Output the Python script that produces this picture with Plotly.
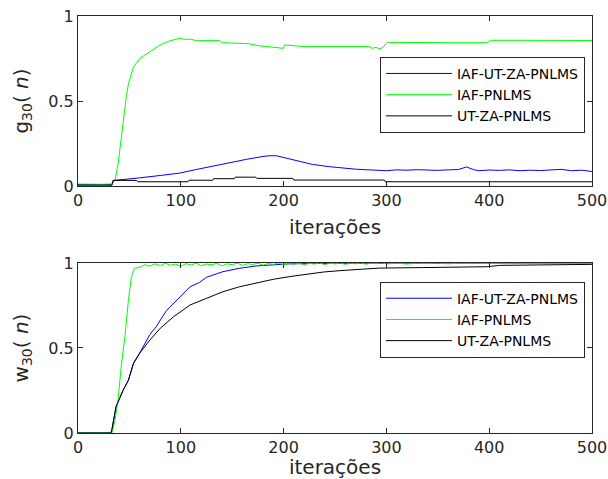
import plotly.graph_objects as go

# ---------------- data: top panel g30(n) ----------------
g_blue_n = [0, 33, 35, 41, 60, 80, 99, 115, 131, 150, 164, 180, 186, 193, 203, 212, 228, 244,
            260, 270, 280, 290, 300, 310, 320, 330, 340, 350, 360, 370, 378, 385, 390, 400,
            410, 420, 430, 440, 450, 460, 470, 480, 490, 500]
g_blue_v = [0.008, 0.008, 0.033, 0.036, 0.048, 0.062, 0.076, 0.097, 0.118, 0.140, 0.157, 0.174,
            0.178, 0.178, 0.163, 0.147, 0.127, 0.114, 0.104, 0.099, 0.096, 0.094, 0.090, 0.095,
            0.093, 0.096, 0.094, 0.092, 0.095, 0.097, 0.112, 0.096, 0.090, 0.094, 0.092, 0.095,
            0.090, 0.093, 0.091, 0.095, 0.098, 0.090, 0.093, 0.085]

g_green_n = [0, 8, 20, 33, 36, 39, 41, 44, 47, 49, 54, 60, 70, 80, 89, 99, 103, 110, 115, 138,
             140, 150, 166, 176, 185, 200, 201, 212, 220, 250, 283, 286, 290, 293, 296, 301,
             330, 360, 398, 402, 430, 460, 500]
g_green_v = [0.012, 0.010, 0.010, 0.012, 0.035, 0.13, 0.23, 0.39, 0.525, 0.60, 0.70, 0.75, 0.79,
             0.83, 0.853, 0.869, 0.863, 0.863, 0.855, 0.855, 0.843, 0.840, 0.837, 0.825, 0.818,
             0.810, 0.830, 0.825, 0.820, 0.820, 0.820, 0.810, 0.815, 0.808, 0.812, 0.845,
             0.843, 0.843, 0.843, 0.857, 0.857, 0.856, 0.856]

g_black_n = [0, 33, 34, 57, 58, 107, 108, 131, 132, 152, 153, 173, 174, 209, 210, 298, 299, 500]
g_black_v = [0.005, 0.005, 0.033, 0.033, 0.025, 0.025, 0.034, 0.034, 0.043, 0.043, 0.052, 0.052,
             0.045, 0.045, 0.035, 0.035, 0.025, 0.025]

# ---------------- data: bottom panel w30(n) ----------------
w_blue_n = [0, 32, 33, 37, 44, 49, 54, 60, 70, 76, 86, 93, 100, 109, 118, 125, 141, 157, 174,
            190, 206, 230, 260, 300, 350, 400, 450, 500]
w_blue_v = [0.0, 0.0, 0.02, 0.155, 0.253, 0.31, 0.41, 0.47, 0.58, 0.625, 0.72, 0.763, 0.80, 0.86,
            0.885, 0.916, 0.949, 0.969, 0.983, 0.990, 0.995, 0.997, 0.998, 0.999, 1.0, 1.0,
            1.0, 1.0]

w_green_n = [0, 32, 33, 36, 39, 42, 46, 49, 52, 55, 60, 65, 70, 75, 80, 85, 90, 95, 100, 105,
             110, 115, 120, 125, 130, 135, 140, 145, 150, 155, 160, 165, 170, 175, 180, 185,
             190, 195, 200, 205, 210, 215, 220, 225, 230, 235, 240, 245, 250, 255, 260, 265,
             270, 275, 280, 285, 290, 295, 300, 310, 320, 330, 340, 350, 360, 370, 380, 390,
             400, 410, 420, 430, 440, 450, 460, 470, 480, 490, 500]
w_green_v = [0.0, 0.0, 0.0, 0.076, 0.194, 0.39, 0.586, 0.78, 0.92, 0.969, 0.975, 0.990, 0.982,
             0.995, 0.985, 0.998, 0.987, 0.993, 0.981, 0.996, 0.988, 0.999, 0.984, 0.994, 0.989,
             0.998, 0.983, 0.995, 0.990, 0.999, 0.986, 0.996, 0.991, 0.999, 0.987, 0.997, 0.992,
             1.0, 0.989, 0.997, 0.993, 0.999, 0.990, 0.998, 0.994, 1.0, 0.991, 0.998, 0.995,
             1.0, 0.992, 0.999, 0.995, 1.0, 0.993, 0.999, 0.996, 1.0, 0.995, 0.998, 0.994,
             0.999, 0.996, 1.0, 0.995, 0.999, 0.997, 1.0, 0.996, 0.999, 0.997, 1.0, 0.996,
             0.999, 0.998, 1.0, 0.997, 0.999, 0.998]

w_black_n = [0, 32, 33, 37, 44, 49, 54, 60, 70, 80, 93, 109, 125, 141, 157, 174, 190, 206, 222,
             239, 255, 271, 293, 335, 398, 410, 500]
w_black_v = [0.0, 0.0, 0.02, 0.155, 0.253, 0.31, 0.41, 0.47, 0.547, 0.616, 0.684, 0.753, 0.792,
             0.831, 0.860, 0.884, 0.904, 0.920, 0.934, 0.947, 0.955, 0.962, 0.970, 0.973,
             0.978, 0.986, 0.992]

names = ["IAF-UT-ZA-PNLMS", "IAF-PNLMS", "UT-ZA-PNLMS"]
colors = ["#0000ff", "#00ff00", "#000000"]
x_ticks = [0, 100, 200, 300, 400, 500]
y_ticks = [0, 0.5, 1]
y_tick_text = ["0", "0.5", "1"]

FONT = "DejaVu Sans"
AXC = "#262626"

fig = go.Figure()
top = [(g_blue_n, g_blue_v), (g_green_n, g_green_v), (g_black_n, g_black_v)]
bot = [(w_blue_n, w_blue_v), (w_green_n, w_green_v), (w_black_n, w_black_v)]
for (xs, ys), nm, c in zip(top, names, colors):
    fig.add_trace(go.Scatter(x=xs, y=ys, mode="lines", name=nm, line=dict(color=c, width=1),
                             xaxis="x", yaxis="y", legend="legend"))
for (xs, ys), nm, c in zip(bot, names, colors):
    fig.add_trace(go.Scatter(x=xs, y=ys, mode="lines", name=nm, line=dict(color=c, width=1),
                             xaxis="x2", yaxis="y2", legend="legend2"))

def xax(anchor):
    return dict(range=[0, 500], tickvals=x_ticks, ticks="inside", ticklen=5, tickcolor=AXC,
                showline=True, linecolor=AXC, linewidth=1, mirror="ticks", showgrid=False,
                zeroline=False, anchor=anchor, automargin=False,
                tickfont=dict(family=FONT, size=16, color=AXC),
                title=dict(text="iterações", font=dict(family=FONT, size=20, color=AXC), standoff=10))

def yax(anchor, domain, label):
    return dict(range=[0, 1], tickvals=y_ticks, ticktext=y_tick_text, ticks="inside", ticklen=5,
                tickcolor=AXC, showline=True, linecolor=AXC, linewidth=1, mirror="ticks",
                showgrid=False, zeroline=False, anchor=anchor, domain=domain, automargin=False,
                tickfont=dict(family=FONT, size=16, color=AXC),
                title=dict(text=label, font=dict(family=FONT, size=20, color=AXC), standoff=14))

legend_style = dict(bgcolor="white", bordercolor=AXC, borderwidth=1, itemwidth=66,
                    font=dict(family=FONT, size=14, color="#000000"),
                    xanchor="left", yanchor="top", tracegroupgap=0)

fig.update_layout(
    width=608, height=479,
    margin=dict(l=78, r=16, t=16, b=46),
    plot_bgcolor="white", paper_bgcolor="white",
    xaxis=xax("y"),
    yaxis=yax("x", [0.5923, 1.0], "g<sub>30</sub>( <i>n</i>)"),
    xaxis2=xax("y2"),
    yaxis2=yax("x2", [0.0, 0.4077], "w<sub>30</sub>( <i>n</i>)"),
    legend=dict(x=0.5875, y=0.902, **legend_style),
    legend2=dict(x=0.5875, y=0.363, **legend_style),
    showlegend=True,
)

fig.write_html("out.html")
